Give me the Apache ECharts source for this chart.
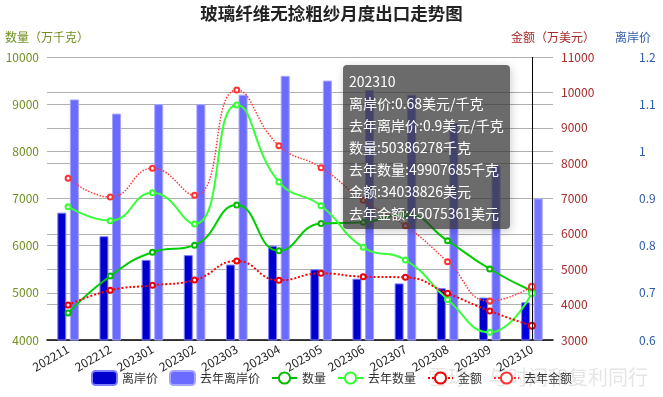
<!DOCTYPE html>
<html>
<head>
<meta charset="utf-8">
<script src="https://cdn.jsdelivr.net/npm/echarts@6/dist/echarts.min.js"></script>
<style>
  html, body { margin: 0; padding: 0; background: #fff; }
  #main { width: 663px; height: 397px; }
</style>
</head>
<body>
<div id="main"></div>
<script>
const months = ['202211', '202212', '202301', '202302', '202303', '202304',
    '202305', '202306', '202307', '202308', '202309', '202310'];

// 离岸价 (美元/千克)
const price = [0.87, 0.82, 0.77, 0.78, 0.76, 0.80, 0.75, 0.73, 0.72, 0.71, 0.69, 0.68];
const priceLast = [1.11, 1.08, 1.10, 1.10, 1.12, 1.16, 1.15, 1.13, 1.12, 1.06, 0.97, 0.9];
// 数量 (万千克)
const qty = [4570, 5357, 5860, 6010, 6860, 5890, 6470, 6495, 6665, 6105, 5505, 5038.6278];
const qtyLast = [6826, 6530, 7123, 6460, 8982, 7350, 6845, 5965, 5696, 4860, 4163, 4990.7685];
// 金额 (万美元)
const amount = [3989, 4404, 4545, 4696, 5233, 4687, 4885, 4790, 4771, 4319, 3820, 3403.8826];
const amountLast = [7571, 7042, 7853, 7089, 10067, 8493, 7871, 6950, 6231, 5214, 4102, 4507.5361];

const chart = echarts.init(document.getElementById('main'));
window.onresize = function () { chart.resize(); };

const font = 'Noto Sans CJK SC';
const plain = function (v) { return String(v); };
const lineSeries = function (name, data, color, width, type, axis) {
    return {
        name: name,
        type: 'line',
        yAxisIndex: axis,
        data: data,
        smooth: true,
        symbol: 'emptyCircle',
        symbolSize: 5,
        itemStyle: { color: color },
        lineStyle: { color: color, width: width, type: type }
    };
};

const option = {
    textStyle: { fontFamily: font },
    title: {
        text: '玻璃纤维无捻粗纱月度出口走势图',
        left: 'center',
        top: 0,
        textStyle: { fontSize: 17.5, fontWeight: 'bold', color: '#222', fontFamily: font }
    },
    grid: { left: 47, right: 110, top: 57, bottom: 57 },
    tooltip: {
        trigger: 'axis',
        position: [343, 65],
        backgroundColor: 'rgba(50,50,50,0.72)',
        borderWidth: 0,
        padding: [5, 6],
        textStyle: { color: '#fff', fontSize: 14, lineHeight: 22, fontFamily: font },
        axisPointer: { type: 'line', lineStyle: { color: '#000', width: 1, type: 'solid' } },
        formatter: function (ps) {
            const i = ps[0].dataIndex;
            return months[i] + '<br/>' +
                '离岸价:' + price[i] + '美元/千克<br/>' +
                '去年离岸价:' + priceLast[i] + '美元/千克<br/>' +
                '数量:' + Math.round(qty[i] * 10000) + '千克<br/>' +
                '去年数量:' + Math.round(qtyLast[i] * 10000) + '千克<br/>' +
                '金额:' + Math.round(amount[i] * 10000) + '美元<br/>' +
                '去年金额:' + Math.round(amountLast[i] * 10000) + '美元';
        }
    },
    legend: {
        bottom: 6,
        left: 'center',
        itemGap: 11,
        textStyle: { fontSize: 12, color: '#333' },
        data: ['离岸价', '去年离岸价', '数量', '去年数量', '金额', '去年金额']
    },
    graphic: [{
        type: 'text',
        x: 428,
        y: 367,
        z: -10,
        silent: true,
        style: { text: '雪球：与时间和复利同行', fontSize: 20, fill: 'rgba(170,170,170,0.3)', fontFamily: font }
    }],
    xAxis: {
        type: 'category',
        data: months,
        axisLine: { lineStyle: { color: '#000', width: 1.5 } },
        axisTick: { lineStyle: { color: '#000' } },
        axisLabel: { rotate: 30, color: '#222', fontSize: 12, margin: 8 }
    },
    yAxis: [{
        type: 'value',
        name: '数量（万千克）',
        min: 4000,
        max: 10000,
        interval: 1000,
        nameGap: 14,
        nameTextStyle: { color: '#6f8f1f', fontSize: 12, align: 'center' },
        axisLabel: { color: '#6f8f1f', fontSize: 12, formatter: plain },
        axisLine: { show: false },
        splitLine: { lineStyle: { color: '#b0b0b0' } }
    }, {
        type: 'value',
        name: '金额（万美元）',
        position: 'right',
        min: 3000,
        max: 11000,
        interval: 1000,
        nameGap: 14,
        nameTextStyle: { color: '#a52a2a', fontSize: 12 },
        axisLabel: { color: '#a52a2a', fontSize: 12, formatter: plain },
        axisLine: { show: false },
        splitLine: { lineStyle: { color: '#b0b0b0' } }
    }, {
        type: 'value',
        name: '离岸价',
        position: 'right',
        offset: 80,
        min: 0.6,
        max: 1.2,
        interval: 0.1,
        nameGap: 14,
        nameTextStyle: { color: '#2e5aa8', fontSize: 12 },
        axisLabel: { color: '#2e5aa8', fontSize: 12, margin: 6 },
        axisLine: { show: false },
        splitLine: { show: false }
    }],
    series: [{
        name: '离岸价',
        type: 'bar',
        yAxisIndex: 2,
        data: price,
        barWidth: 9,
        barGap: '40%',
        itemStyle: { color: '#0000cd', borderColor: '#7f7fff', borderWidth: 1 }
    }, {
        name: '去年离岸价',
        type: 'bar',
        yAxisIndex: 2,
        data: priceLast,
        barWidth: 9,
        barGap: '40%',
        itemStyle: { color: '#6b6bff', borderColor: '#a5a5ff', borderWidth: 1 }
    },
    lineSeries('数量', qty, '#00bb00', 2, 'solid', 0),
    lineSeries('去年数量', qtyLast, '#33ff33', 2, 'solid', 0),
    lineSeries('金额', amount, '#ee0000', 2, 'dotted', 1),
    lineSeries('去年金额', amountLast, '#ff3333', 1.5, 'dotted', 1)
    ]
};

chart.setOption(option);
setTimeout(function () {
    chart.dispatchAction({ type: 'showTip', seriesIndex: 0, dataIndex: 11 });
}, 100);
</script>
</body>
</html>
